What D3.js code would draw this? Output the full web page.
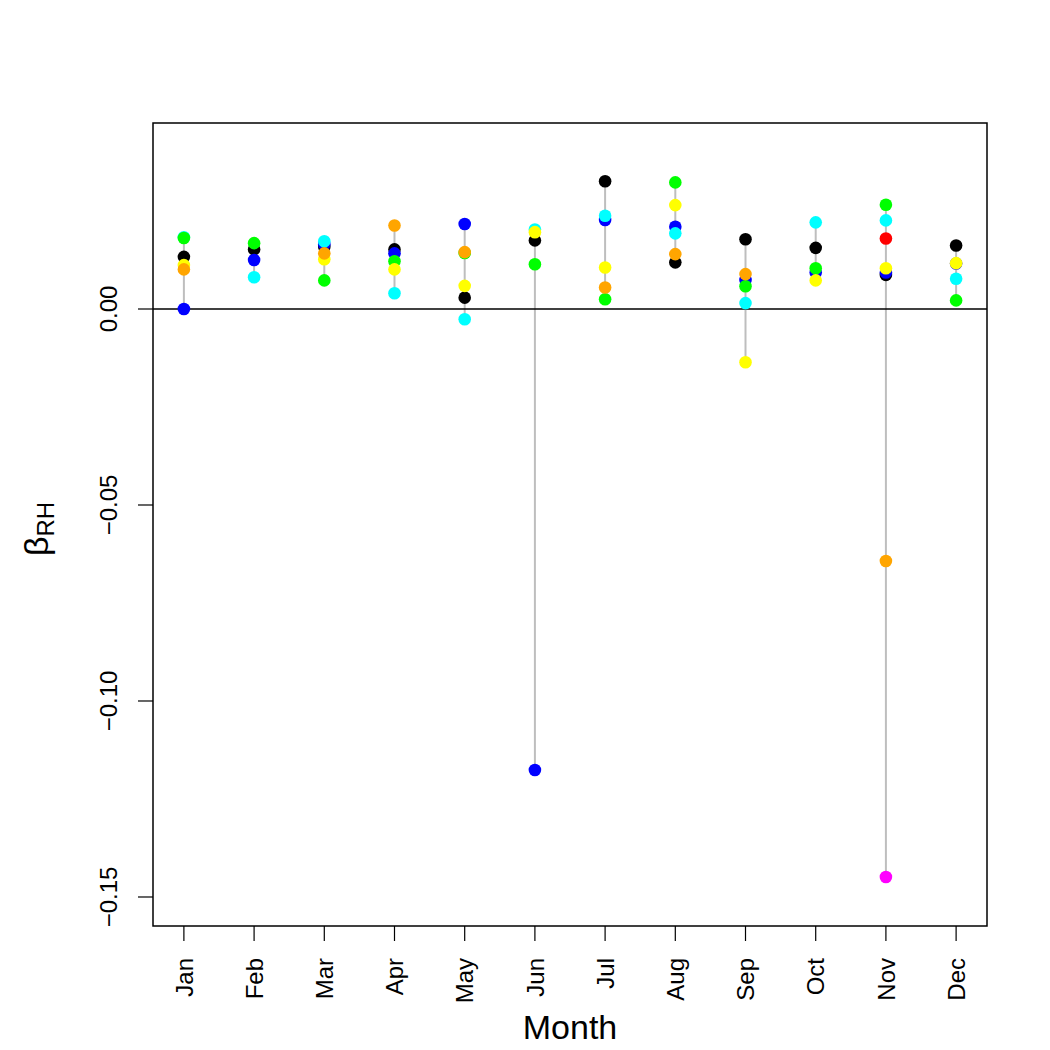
<!DOCTYPE html>
<html>
<head>
<meta charset="utf-8">
<script src="https://cdn.jsdelivr.net/npm/d3@7"></script>
<style>
  body { margin: 0; background: #fff; }
  text { font-family: "Liberation Sans", Arial, sans-serif; fill: #000; }
</style>
</head>
<body>
<svg id="chart" width="1050" height="1050"></svg>
<script>
// months on the x axis
const months = ["Jan","Feb","Mar","Apr","May","Jun","Jul","Aug","Sep","Oct","Nov","Dec"];

// beta_RH per month, one array per series (null = no value)
const blackVals   = [0.0133, 0.0152, 0.0158, 0.0152, 0.0029, 0.0175, 0.0326, 0.0119, 0.0178, 0.0156, 0.0087, 0.0162];
const blueVals    = [0.0000, 0.0125, 0.0165, 0.0142, 0.0217, -0.1176, 0.0227, 0.0210, 0.0074, 0.0093, 0.0093, 0.0116];
const cyanVals    = [0.0183, 0.0081, 0.0173, 0.0040, -0.0026, 0.0203, 0.0238, 0.0193, 0.0015, 0.0221, 0.0226, 0.0077];
const greenVals   = [0.0181, 0.0168, 0.0073, 0.0122, 0.0143, 0.0114, 0.0025, 0.0323, 0.0058, 0.0104, 0.0266, 0.0022];
const yellowVals  = [0.0112, null, 0.0127, 0.0101, 0.0059, 0.0196, 0.0106, 0.0265, -0.0136, 0.0073, 0.0104, 0.0117];
const orangeVals  = [0.0101, null, 0.0142, 0.0213, 0.0145, null, 0.0055, 0.0140, 0.0089, null, -0.0643, null];
const redVals     = [null, null, null, null, null, null, null, null, null, null, 0.0180, null];
const magentaVals = [null, null, null, null, null, null, null, null, null, null, -0.1449, null];

const yTicks = [0, -0.05, -0.10, -0.15];

const series = [
  { color: "#000000", values: blackVals },
  { color: "#0000FF", values: blueVals },
  { color: "#00FFFF", values: cyanVals },
  { color: "#00FF00", values: greenVals },
  { color: "#FFFF00", values: yellowVals },
  { color: "#FFA500", values: orangeVals },
  { color: "#FF0000", values: redVals },
  { color: "#FF00FF", values: magentaVals }
];

const plotL = 153, plotR = 987, plotT = 123, plotB = 926;
const svg = d3.select("#chart");

const x = d3.scaleLinear().domain([0.56, 12.44]).range([plotL, plotR]);
const y = d3.scaleLinear().domain([-0.1574, 0.04745]).range([plotB, plotT]);

// grey range line per month
const ranges = months.map((m, i) => {
  const vals = series.map(s => s.values[i]).filter(v => v != null);
  return { i: i + 1, lo: d3.min(vals), hi: d3.max(vals) };
});
svg.append("g").selectAll("line").data(ranges).enter().append("line")
  .attr("x1", d => x(d.i)).attr("x2", d => x(d.i))
  .attr("y1", d => y(d.lo)).attr("y2", d => y(d.hi))
  .attr("stroke", "#bebebe").attr("stroke-width", 2);

// zero line
svg.append("line")
  .attr("x1", plotL).attr("x2", plotR)
  .attr("y1", y(0)).attr("y2", y(0))
  .attr("stroke", "#000").attr("stroke-width", 1.5);

// points
series.forEach(s => {
  const pts = s.values.map((v, i) => ({ i: i + 1, v: v })).filter(d => d.v != null);
  svg.append("g").selectAll("circle").data(pts).enter().append("circle")
    .attr("cx", d => x(d.i)).attr("cy", d => y(d.v))
    .attr("r", 6.3).attr("fill", s.color);
});

// frame
svg.append("rect")
  .attr("x", plotL).attr("y", plotT)
  .attr("width", plotR - plotL).attr("height", plotB - plotT)
  .attr("fill", "none").attr("stroke", "#000").attr("stroke-width", 1.5);

// y axis ticks and labels
const yAx = svg.append("g");
yAx.selectAll("line").data(yTicks).enter().append("line")
  .attr("x1", plotL - 15).attr("x2", plotL)
  .attr("y1", d => y(d)).attr("y2", d => y(d))
  .attr("stroke", "#000").attr("stroke-width", 1.2);
yAx.selectAll("text").data(yTicks).enter().append("text")
  .attr("transform", d => "translate(117," + y(d) + ") rotate(-90)")
  .attr("text-anchor", "middle")
  .style("font-size", "24px")
  .text(d => d === 0 ? "0.00" : "\u2212" + d3.format(".2f")(-d));

// x axis ticks and labels
const xAx = svg.append("g");
xAx.selectAll("line").data(months).enter().append("line")
  .attr("x1", (d, i) => x(i + 1)).attr("x2", (d, i) => x(i + 1))
  .attr("y1", plotB).attr("y2", plotB + 15)
  .attr("stroke", "#000").attr("stroke-width", 1.2);
xAx.selectAll("text").data(months).enter().append("text")
  .attr("transform", (d, i) => "translate(" + x(i + 1) + ",958) rotate(-90)")
  .attr("text-anchor", "end")
  .attr("dy", "0.36em")
  .style("font-size", "24px")
  .text(d => d);

// axis titles
svg.append("text")
  .attr("x", (plotL + plotR) / 2).attr("y", 1039)
  .attr("text-anchor", "middle")
  .style("font-size", "34px")
  .text("Month");

const yl = svg.append("text")
  .attr("transform", "translate(48,529) rotate(-90)")
  .attr("text-anchor", "middle");
yl.append("tspan").style("font-size", "34px").text("\u03B2");
yl.append("tspan").style("font-size", "24px").attr("dy", 6).text("RH");
</script>
</body>
</html>
